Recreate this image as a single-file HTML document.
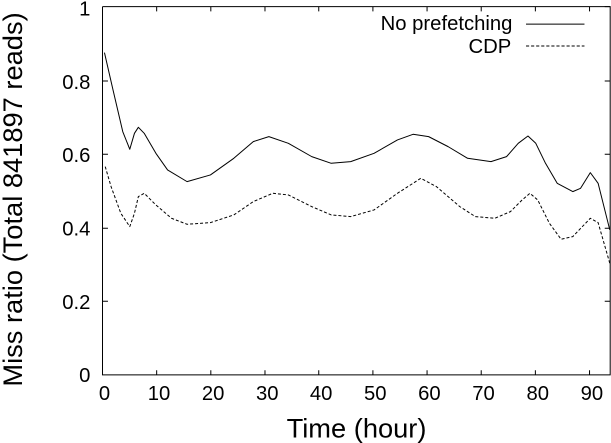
<!DOCTYPE html>
<html><head><style>html,body{margin:0;padding:0;background:#fff;overflow:hidden}svg{display:block}</style></head>
<body>
<svg width="611" height="443" viewBox="0 0 1568 1137" xmlns="http://www.w3.org/2000/svg" font-family="Liberation Sans, sans-serif">
<rect width="1568" height="1137" fill="#fff"/>
<g transform="scale(1,0.8553)">
<g stroke="#000" fill="none">
<path d="M263 20 V1125 H1566 V20 H263" stroke-width="1" vector-effect="non-scaling-stroke"/>
<path d="M263 243h14M263 463h14M263 685h14M263 904h14M1566 243h-14M1566 463h-14M1566 685h-14M1566 904h-14M1566 20h-14" stroke-width="1" vector-effect="non-scaling-stroke"/>
<path d="M402 1125v-14M541 1125v-14M680 1125v-14M818 1125v-14M957 1125v-14M1096 1125v-14M1235 1125v-14M1374 1125v-14M1513 1125v-14" stroke-width="1" vector-effect="non-scaling-stroke"/>
<path d="M402 20v14M541 20v14M680 20v14M818 20v14M957 20v14M1096 20v14M1235 20v14M1374 20v14M1513 20v14" stroke-width="1" vector-effect="non-scaling-stroke"/>
</g>
<polyline fill="none" stroke="#000" stroke-width="1" vector-effect="non-scaling-stroke" stroke-linejoin="round" points="268,158 290,270 315,395 333,448 345,400 355,382 370,400 400,460 430,510 480,545 540,525 600,475 650,425 690,410 740,430 800,470 850,490 900,485 960,460 1020,420 1060,403 1100,410 1150,440 1200,475 1260,485 1300,470 1330,430 1355,408 1375,430 1400,490 1430,550 1470,575 1490,565 1515,518 1535,550 1565,690"/>
<polyline fill="none" stroke="#000" stroke-width="1" vector-effect="non-scaling-stroke" stroke-linejoin="round" stroke-dasharray="3,2" points="270,500 285,560 310,640 333,680 345,640 355,590 370,580 400,615 440,655 480,673 540,668 600,645 650,605 700,580 740,585 800,620 850,645 900,650 960,630 1020,580 1080,535 1120,560 1180,620 1220,650 1270,655 1310,635 1340,600 1360,580 1380,600 1410,670 1440,718 1470,710 1515,655 1535,668 1565,790"/>
</g>
<g font-size="52" text-anchor="end" fill="#000">
<text x="232" y="981">0</text><text x="232" y="793">0.2</text><text x="232" y="605">0.4</text><text x="232" y="416">0.6</text><text x="232" y="228">0.8</text><text x="232" y="40">1</text>
</g>
<g font-size="52" text-anchor="middle" fill="#000">
<text x="268" y="1027">0</text><text x="408" y="1027">10</text><text x="547" y="1027">20</text><text x="686" y="1027">30</text><text x="824" y="1027">40</text><text x="963" y="1027">50</text><text x="1102" y="1027">60</text><text x="1241" y="1027">70</text><text x="1380" y="1027">80</text><text x="1519" y="1027">90</text>
</g>
<text x="915" y="1123" font-size="70" text-anchor="middle">Time (hour)</text>
<text transform="translate(56,512) rotate(-90)" font-size="70" text-anchor="middle">Miss ratio (Total 841897 reads)</text>
<g font-size="52" text-anchor="end"><text x="1315" y="77">No prefetching</text><text x="1312" y="136">CDP</text></g>
<path d="M1350 62H1500" stroke="#000" stroke-width="2.6"/>
<path d="M1350 118H1500" stroke="#000" stroke-width="2.6" stroke-dasharray="8,5"/>
</svg>
</body></html>
